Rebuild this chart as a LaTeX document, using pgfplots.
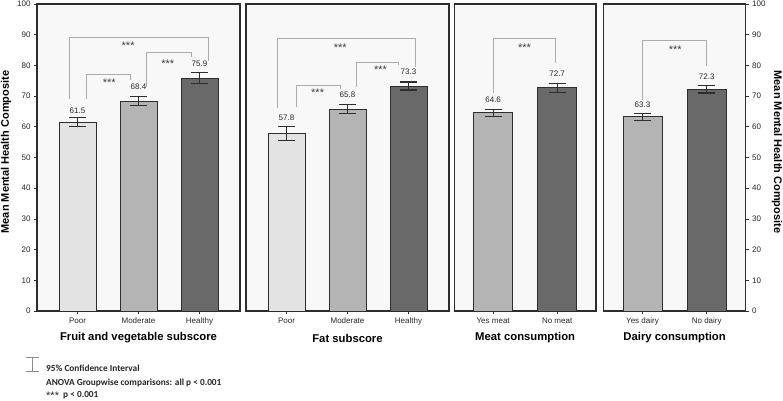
\documentclass[border=0pt]{standalone}
\usepackage{fontspec}
\setmainfont{Liberation Sans}
\newfontfamily\calibri{Carlito}
\usepackage{pgfplots}
\pgfplotsset{compat=1.18}

\definecolor{panelbg}{RGB}{248,248,248}
\definecolor{barlight}{RGB}{227,227,227}
\definecolor{barmid}{RGB}{180,180,180}
\definecolor{bardark}{RGB}{105,105,105}
\definecolor{edge}{RGB}{45,45,45}
\definecolor{bracket}{RGB}{172,172,172}

\pgfplotsset{
  panel/.style={
    scale only axis, height=307pt, ymin=0, ymax=100, clip=false,
    axis background/.style={fill=panelbg},
    axis line style={edge, line width=1.1pt},
    tick align=outside, major tick length=3pt,
    tick style={edge, line width=0.8pt},
    xtick pos=left,
    tick label style={font=\fontsize{8}{9}\selectfont, text=black!85},
    /pgf/number format/assume math mode=true,
    xlabel style={font=\bfseries\fontsize{11.3}{13}\selectfont,
      at={(axis description cs:0.5,0)}, anchor=center, yshift=-27pt},
  },
  onebar/.style={ybar, bar shift=0pt, draw=edge, line width=0.9pt,
    error bars/y dir=both, error bars/y explicit,
    error bars/error mark options={rotate=90, edge, line width=1.1pt, mark size=8.5pt},
    error bars/error bar style={edge, line width=1.1pt}},
}
\tikzset{
  br/.style={bracket, line width=0.8pt},
  st/.style={font=\fontsize{11}{12}\selectfont, text=black!75, yshift=-2.5pt},
  vl/.style={font=\fontsize{8}{9}\selectfont, text=black!85},
}

\begin{document}
\begin{tikzpicture}
\useasboundingbox (0,-400pt) rectangle (783pt,0);

% panel 1
\begin{axis}[panel, at={(37pt,-311pt)}, anchor=south west, width=203pt,
  xmin=-0.664, xmax=2.664, xtick={0,1,2}, xticklabels={Poor,Moderate,Healthy},
  ytick={0,10,...,100}, ytick pos=left,
  xlabel={Fruit and vegetable subscore}]
\addplot[onebar, bar width=37pt, fill=barlight] coordinates {(0,61.5) +- (0,1.5)};
\addplot[onebar, bar width=37pt, fill=barmid] coordinates {(1,68.4) +- (0,1.35)};
\addplot[onebar, bar width=37pt, fill=bardark] coordinates {(2,75.9) +- (0,1.8)};
\node[vl] at (axis cs:0,65.2) {61.5};
\node[vl] at (axis cs:1,72.9) {68.4};
\node[vl] at (axis cs:2,80.4) {75.9};
\draw[br] (axis cs:-0.14,69) |- (axis cs:2.14,89) -- (axis cs:2.14,81.4);
\draw[br] (axis cs:0.15,69) |- (axis cs:0.87,77) -- (axis cs:0.87,75.2);
\draw[br] (axis cs:1.13,72.9) |- (axis cs:1.86,84.1) -- (axis cs:1.86,82.8);
\node[st] at (axis cs:0.83,87.3) {***};
\node[st] at (axis cs:0.52,75.2) {***};
\node[st] at (axis cs:1.48,81.5) {***};
\end{axis}

% panel 2
\begin{axis}[panel, at={(246pt,-311pt)}, anchor=south west, width=203pt,
  xmin=-0.664, xmax=2.664, xtick={0,1,2}, xticklabels={Poor,Moderate,Healthy},
  ytick=\empty, xlabel={Fat subscore}]
\addplot[onebar, bar width=37pt, fill=barlight] coordinates {(0,57.8) +- (0,2.2)};
\addplot[onebar, bar width=37pt, fill=barmid] coordinates {(1,65.8) +- (0,1.45)};
\addplot[onebar, bar width=37pt, fill=bardark] coordinates {(2,73.3) +- (0,1.3)};
\node[vl] at (axis cs:0,63.1) {57.8};
\node[vl] at (axis cs:1,70.4) {65.8};
\node[vl] at (axis cs:2,77.9) {73.3};
\draw[br] (axis cs:-0.15,66) |- (axis cs:2.12,88.8) -- (axis cs:2.12,79.6);
\draw[br] (axis cs:0.16,66.3) |- (axis cs:0.89,73.5) -- (axis cs:0.89,72.2);
\draw[br] (axis cs:1.15,72.9) |- (axis cs:1.84,81) -- (axis cs:1.84,80.1);
\node[st] at (axis cs:0.88,86.6) {***};
\node[st] at (axis cs:0.51,71.8) {***};
\node[st] at (axis cs:1.54,79.3) {***};
\end{axis}

% panel 3
\begin{axis}[panel, at={(454.3pt,-311pt)}, anchor=south west, width=141.7pt,
  xmin=-0.607, xmax=1.607, xtick={0,1}, xticklabels={Yes meat,No meat},
  ytick=\empty, xlabel={Meat consumption}]
\addplot[onebar, bar width=39pt, fill=barmid] coordinates {(0,64.6) +- (0,1.15)};
\addplot[onebar, bar width=39pt, fill=bardark] coordinates {(1,72.7) +- (0,1.5)};
\node[vl] at (axis cs:0,68.7) {64.6};
\node[vl] at (axis cs:1,77.4) {72.7};
\draw[br] (axis cs:0.01,71.1) |- (axis cs:0.98,88.8) -- (axis cs:0.98,80.7);
\node[st] at (axis cs:0.49,86.6) {***};
\end{axis}

% panel 4
\begin{axis}[panel, at={(603.5pt,-311pt)}, anchor=south west, width=142.2pt,
  xmin=-0.607, xmax=1.607, xtick={0,1}, xticklabels={Yes dairy,No dairy},
  ytick={0,10,...,100}, ytick pos=right, yticklabel pos=right,
  xlabel={Dairy consumption}]
\addplot[onebar, bar width=39pt, fill=barmid] coordinates {(0,63.3) +- (0,1.15)};
\addplot[onebar, bar width=39pt, fill=bardark] coordinates {(1,72.3) +- (0,1.3)};
\node[vl] at (axis cs:0,67.3) {63.3};
\node[vl] at (axis cs:1,76.4) {72.3};
\draw[br] (axis cs:0,68.7) |- (axis cs:0.99,88) -- (axis cs:0.99,79.8);
\node[st] at (axis cs:0.51,85.8) {***};
\end{axis}

% axis titles
\node[rotate=90, font=\bfseries\fontsize{11}{13}\selectfont] at (6pt,-152pt) {Mean Mental Health Composite};
\node[rotate=-90, font=\bfseries\fontsize{11}{13}\selectfont] at (777pt,-152pt) {Mean Mental Health Composite};

% key
\draw[black!45, line width=1pt] (32.5pt,-357pt) -- (32.5pt,-371.5pt)
  (26pt,-357pt) -- (39pt,-357pt) (26pt,-371.5pt) -- (39pt,-371.5pt);
\begin{scope}[every node/.style={anchor=base west, inner sep=0pt,
    font=\calibri\bfseries\fontsize{9.3}{11}\selectfont, text=black!85}]
\node at (46pt,-371.5pt) {95\% Confidence Interval};
\node at (46pt,-385pt) {ANOVA Groupwise comparisons: all p < 0.001};
\node at (46pt,-397pt) {\raisebox{-2pt}{\normalfont\fontsize{11}{12}\selectfont ***}\ \ p < 0.001};
\end{scope}
\end{tikzpicture}
\end{document}
